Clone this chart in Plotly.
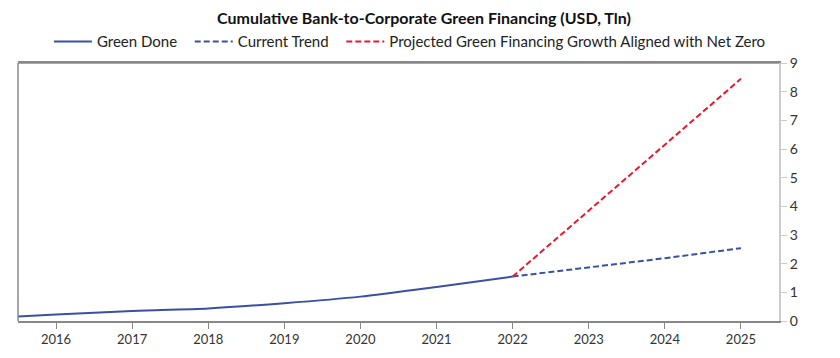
import plotly.graph_objects as go

years_done = [2015, 2016, 2017, 2018, 2019, 2020, 2021, 2022]
green_done = [0.09, 0.23, 0.35, 0.44, 0.62, 0.85, 1.19, 1.55]

years_proj = [2022, 2023, 2024, 2025]
current_trend = [1.55, 1.86, 2.19, 2.54]
net_zero = [1.55, 3.85, 6.15, 8.45]

x_ticks = [2016, 2017, 2018, 2019, 2020, 2021, 2022, 2023, 2024, 2025]
y_ticks = [0, 1, 2, 3, 4, 5, 6, 7, 8, 9]

BLUE = "#3b4fa6"
RED = "#e8192c"
FONT = "Lato"

fig = go.Figure()
fig.add_trace(go.Scatter(x=years_done, y=green_done, mode="lines", name="Green Done\u00a0\u00a0",
                         line=dict(color=BLUE, width=2, shape="spline", smoothing=0.6)))
fig.add_trace(go.Scatter(x=years_proj, y=current_trend, mode="lines", name="Current Trend\u00a0\u00a0",
                         line=dict(color=BLUE, width=2, dash="6px,3px")))
fig.add_trace(go.Scatter(x=years_proj, y=net_zero, mode="lines",
                         name="Projected Green Financing Growth Aligned with Net Zero",
                         line=dict(color=RED, width=2, dash="6px,3px")))

# page body has an 8px margin; figure sized so the plot sits where the reference has it
fig.update_layout(
    width=832, height=350,
    margin=dict(l=10, r=61, t=55, b=37),
    paper_bgcolor="white", plot_bgcolor="white",
    font=dict(family=FONT, size=15, color="#222"),
    title=dict(text="<b>Cumulative Bank-to-Corporate Green Financing (USD, Tln)</b>",
               x=0.5, xanchor="center", y=0.971, yanchor="middle",
               font=dict(family=FONT, size=16, color="#111")),
    legend=dict(orientation="h", x=0.515, xanchor="center", y=1.018, yanchor="bottom",
                font=dict(family=FONT, size=15, color="#222"), traceorder="normal",
                itemwidth=38),
    showlegend=True,
)
fig.update_xaxes(range=[2015.5, 2025.5], tickvals=x_ticks, ticktext=[str(t) for t in x_ticks],
                 showgrid=False, zeroline=False, showline=True, linecolor="#888", linewidth=1.5,
                 mirror=True, ticks="outside", ticklen=6, tickcolor="#888",
                 tickfont=dict(family=FONT, size=13, color="#333"))
fig.update_yaxes(range=[0, 9], tickvals=y_ticks, side="right",
                 showgrid=False, zeroline=False, showline=True, linecolor="#ccc", linewidth=2,
                 ticks="outside", ticklen=6, tickcolor="#ccc",
                 tickfont=dict(family=FONT, size=14, color="#333"))
fig.add_shape(type="line", xref="paper", yref="paper", x0=0, x1=0, y0=0, y1=1,
              line=dict(color="#888", width=1.5))
fig.add_shape(type="line", xref="paper", yref="paper", x0=0, x1=1, y0=1, y1=1,
              line=dict(color="#888", width=1.5))

fig.write_html("out.html")
